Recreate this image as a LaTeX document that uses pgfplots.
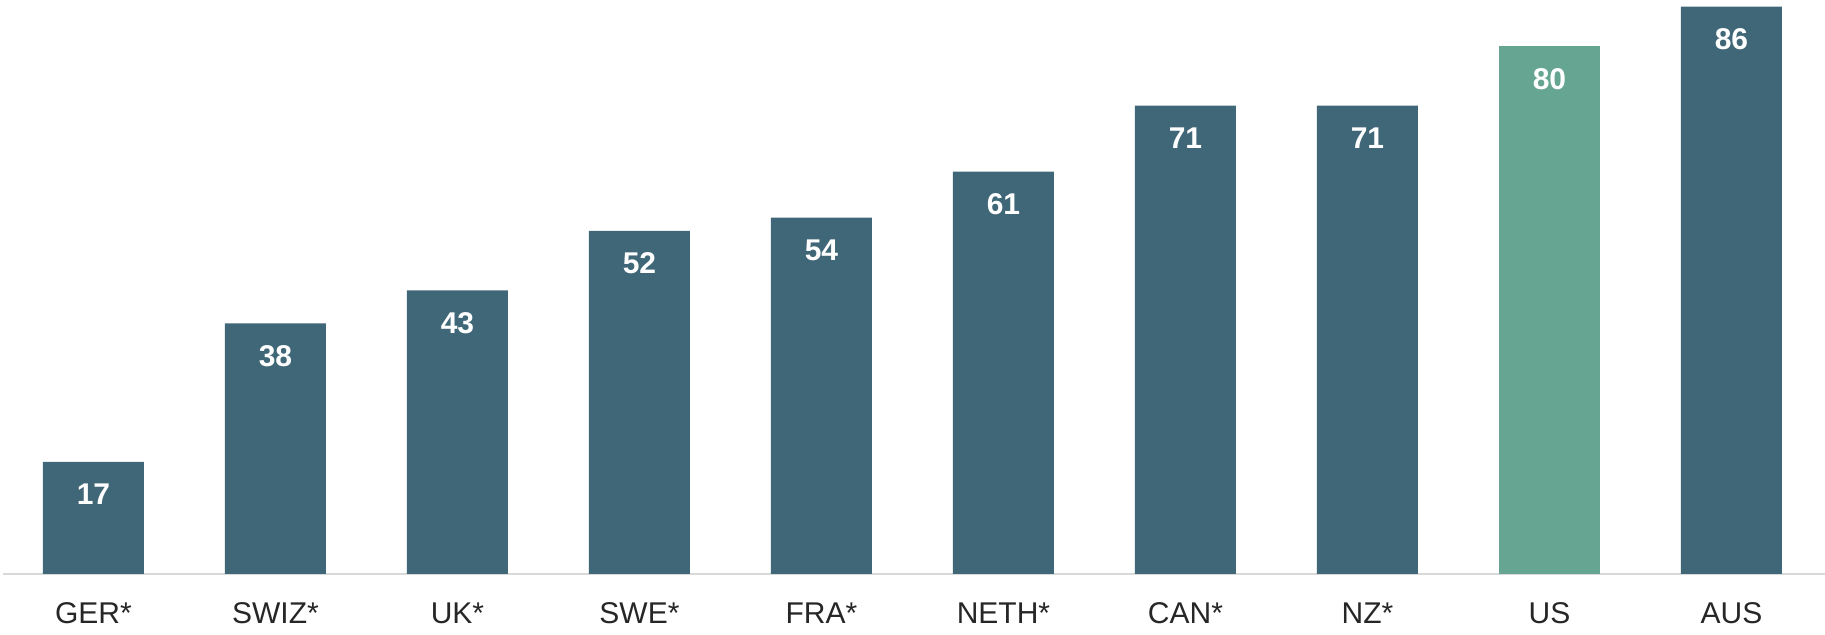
\documentclass[border=0pt]{standalone}
\usepackage{pgfplots}
\pgfplotsset{compat=1.18}
\usepackage{fontspec}
\setmainfont{Liberation Sans}
\definecolor{barblue}{HTML}{406778}
\definecolor{bargreen}{HTML}{66A591}
\definecolor{axgray}{HTML}{D9D9D9}
\definecolor{txt}{HTML}{262626}
\begin{document}
\begin{tikzpicture}
\useasboundingbox (0,0) rectangle (912.5pt,317.5pt);
\begin{axis}[
  at={(1.5pt,30.5pt)}, anchor=south west,
  scale only axis, width=911pt, height=287pt,
  xmin=-0.497, xmax=9.514, ymin=0, ymax=87,
  axis x line*=bottom, axis y line=none,
  x axis line style={draw=axgray, line width=1pt, -},
  xtick={0,...,9},
  xticklabels={GER*,SWIZ*,UK*,SWE*,FRA*,NETH*,CAN*,NZ*,US,AUS},
  major tick length=0pt,
  xticklabel style={anchor=base, yshift=-25pt, font=\fontsize{15}{18}\selectfont, text=txt},
  ybar, bar width=50.5pt,
  nodes near coords,
  nodes near coords style={anchor=base, yshift=-21.5pt, text=white, font=\fontsize{15}{18}\selectfont\bfseries, /pgf/number format/assume math mode=true},
  /pgf/number format/assume math mode=true,
  clip=false,
]
\addplot[fill=barblue, draw=none, bar shift=0pt] coordinates {(0,17) (1,38) (2,43) (3,52) (4,54) (5,61) (6,71) (7,71) (9,86)};
\addplot[fill=bargreen, draw=none, bar shift=0pt] coordinates {(8,80)};
\end{axis}
\end{tikzpicture}
\end{document}
